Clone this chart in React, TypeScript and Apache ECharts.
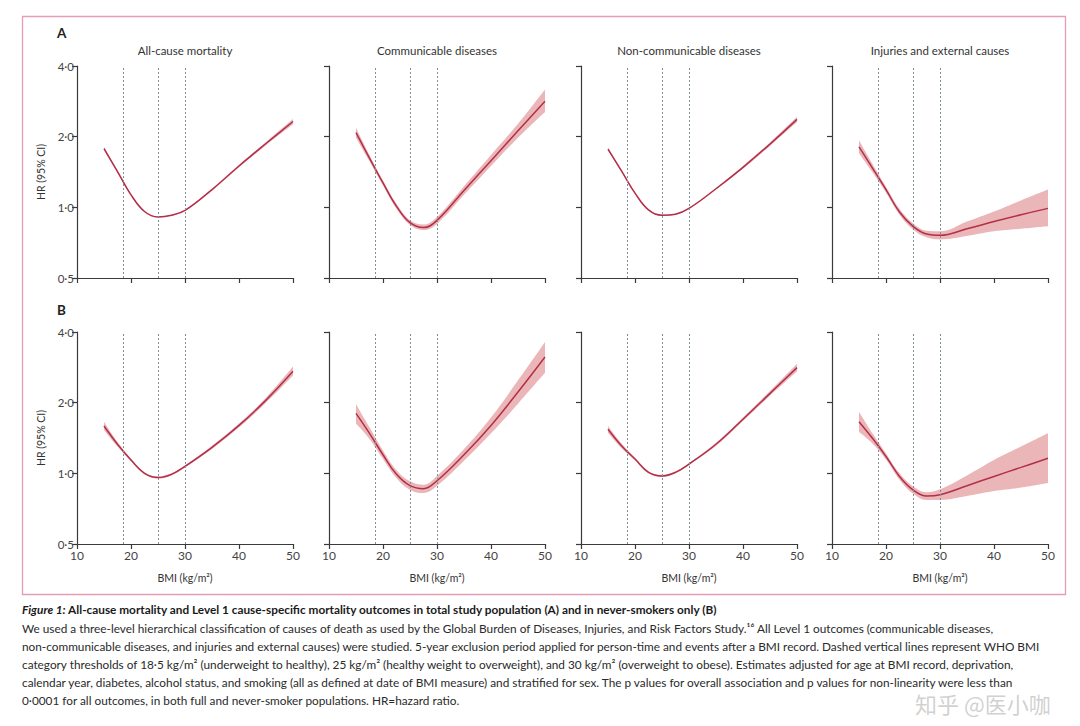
import React, { useEffect, useRef } from "react";
import * as echarts from "echarts";

// ---------- data ----------
const bmi = [15, 17.5, 20, 22.5, 25, 27.5, 30, 35, 40, 45, 50];
const panelTitles = [
  "All-cause mortality",
  "Communicable diseases",
  "Non-communicable diseases",
  "Injuries and external causes",
];
const rowLabels = ["A", "B"];
const yTicks = [0.5, 1, 2, 4];
const xTicks = [10, 20, 30, 40, 50];
const whoThresholds = [18.5, 25, 30];

// Row A: total study population
const hrA1 = [1.78, 1.42, 1.13, 0.96, 0.91, 0.925, 0.97, 1.19, 1.5, 1.87, 2.32];
const loA1 = [1.75, 1.405, 1.12, 0.955, 0.905, 0.92, 0.965, 1.18, 1.48, 1.84, 2.26];
const hiA1 = [1.81, 1.435, 1.14, 0.965, 0.915, 0.93, 0.975, 1.2, 1.52, 1.9, 2.38];

const hrA2 = [2.08, 1.62, 1.27, 1.01, 0.86, 0.82, 0.88, 1.18, 1.58, 2.12, 2.83];
const loA2 = [1.98, 1.57, 1.24, 0.985, 0.84, 0.8, 0.85, 1.13, 1.5, 1.98, 2.55];
const hiA2 = [2.19, 1.67, 1.3, 1.035, 0.88, 0.845, 0.91, 1.23, 1.67, 2.27, 3.18];

const hrA3 = [1.77, 1.43, 1.15, 0.975, 0.925, 0.935, 0.99, 1.2, 1.48, 1.86, 2.37];
const loA3 = [1.74, 1.415, 1.14, 0.97, 0.92, 0.93, 0.985, 1.19, 1.46, 1.83, 2.31];
const hiA3 = [1.8, 1.445, 1.16, 0.98, 0.93, 0.94, 0.995, 1.21, 1.5, 1.89, 2.43];

const hrA4 = [1.81, 1.47, 1.19, 0.955, 0.83, 0.77, 0.76, 0.81, 0.87, 0.93, 0.99];
const loA4 = [1.7, 1.41, 1.155, 0.93, 0.805, 0.745, 0.73, 0.755, 0.79, 0.81, 0.83];
const hiA4 = [1.93, 1.53, 1.225, 0.985, 0.855, 0.795, 0.79, 0.87, 0.96, 1.07, 1.19];

// Row B: never-smokers only
const hrB1 = [1.59, 1.33, 1.14, 1.0, 0.96, 0.99, 1.07, 1.29, 1.6, 2.05, 2.72];
const loB1 = [1.53, 1.3, 1.125, 0.99, 0.95, 0.98, 1.06, 1.27, 1.57, 2.0, 2.61];
const hiB1 = [1.66, 1.36, 1.155, 1.01, 0.97, 1.0, 1.08, 1.31, 1.63, 2.1, 2.85];

const hrB2 = [1.8, 1.48, 1.2, 0.99, 0.886, 0.86, 0.93, 1.2, 1.6, 2.22, 3.13];
const loB2 = [1.63, 1.4, 1.15, 0.955, 0.85, 0.825, 0.885, 1.13, 1.48, 1.98, 2.68];
const hiB2 = [1.97, 1.57, 1.25, 1.03, 0.925, 0.895, 0.975, 1.27, 1.73, 2.49, 3.63];

const hrB3 = [1.54, 1.31, 1.15, 1.01, 0.975, 1.01, 1.095, 1.33, 1.7, 2.19, 2.82];
const loB3 = [1.49, 1.28, 1.135, 1.0, 0.965, 1.0, 1.085, 1.31, 1.67, 2.14, 2.72];
const hiB3 = [1.59, 1.34, 1.165, 1.02, 0.985, 1.02, 1.105, 1.35, 1.73, 2.24, 2.93];

const hrB4 = [1.66, 1.41, 1.18, 0.97, 0.85, 0.8, 0.81, 0.886, 0.97, 1.06, 1.16];
const loB4 = [1.5, 1.34, 1.145, 0.94, 0.82, 0.77, 0.77, 0.8, 0.84, 0.87, 0.91];
const hiB4 = [1.83, 1.48, 1.215, 1.0, 0.88, 0.83, 0.855, 0.98, 1.14, 1.3, 1.48];

const captionLines = [
  "We used a three-level hierarchical classification of causes of death as used by the Global Burden of Diseases, Injuries, and Risk Factors Study.¹⁶ All Level 1 outcomes (communicable diseases,",
  "non-communicable diseases, and injuries and external causes) were studied. 5-year exclusion period applied for person-time and events after a BMI record. Dashed vertical lines represent WHO BMI",
  "category thresholds of 18·5 kg/m² (underweight to healthy), 25 kg/m² (healthy weight to overweight), and 30 kg/m² (overweight to obese). Estimates adjusted for age at BMI record, deprivation,",
  "calendar year, diabetes, alcohol status, and smoking (all as defined at date of BMI measure) and stratified for sex. The p values for overall association and p values for non-linearity were less than",
  "0·0001 for all outcomes, in both full and never-smoker populations. HR=hazard ratio.",
];
const captionTitleItalic = "Figure 1:";
const captionTitleBold =
  " All-cause mortality and Level 1 cause-specific mortality outcomes in total study population (A) and in never-smokers only (B)";
const watermarkText = "知乎 @医小咖";

const panels = [
  { hr: hrA1, lo: loA1, hi: hiA1 },
  { hr: hrA2, lo: loA2, hi: hiA2 },
  { hr: hrA3, lo: loA3, hi: hiA3 },
  { hr: hrA4, lo: loA4, hi: hiA4 },
  { hr: hrB1, lo: loB1, hi: hiB1 },
  { hr: hrB2, lo: loB2, hi: hiB2 },
  { hr: hrB3, lo: loB3, hi: hiB3 },
  { hr: hrB4, lo: loB4, hi: hiB4 },
];

// ---------- layout / style ----------
const FONT = "Lato, 'Open Sans', sans-serif";
const colLefts = [77, 329, 581, 832];
const rowTops = [66, 332];
const GW = 216;
const GH = 212;
const LINE_COLOR = "#b32f49";
const BAND_COLOR = "#ebb6b8";
const AXIS_COLOR = "#3a3a3a";
const DASH_COLOR = "#7f8f98";
const SMOOTH = 0.4;

const fmtY = (v: number) => v.toFixed(1).replace(".", "·");

function buildOption() {
  const grid: any[] = [];
  const xAxis: any[] = [];
  const yAxis: any[] = [];
  const series: any[] = [];
  const graphic: any[] = [];

  panels.forEach((p, i) => {
    const row = Math.floor(i / 4);
    const col = i % 4;
    const left = colLefts[col];
    const top = rowTops[row];
    grid.push({ left, top, width: GW, height: GH, containLabel: false });
    xAxis.push({
      type: "value",
      gridIndex: i,
      z: 10,
      min: xTicks[0],
      max: xTicks[xTicks.length - 1],
      interval: 10,
      axisLine: { show: true, lineStyle: { color: AXIS_COLOR, width: 1.2 } },
      axisTick: { show: true, length: 5, lineStyle: { color: AXIS_COLOR, width: 1.2 } },
      axisLabel: {
        show: row === 1,
        fontFamily: FONT,
        fontSize: 12,
        color: "#444",
        margin: 5,
      },
      splitLine: { show: false },
      name: row === 1 ? "BMI (kg/m²)" : "",
      nameLocation: "middle",
      nameGap: 28,
      nameTextStyle: { fontFamily: FONT, fontSize: 10.5, color: "#333" },
    });
    yAxis.push({
      type: "log",
      logBase: 2,
      gridIndex: i,
      z: 10,
      min: yTicks[0],
      max: yTicks[yTicks.length - 1],
      axisLine: { show: true, lineStyle: { color: AXIS_COLOR, width: 1.2 } },
      axisTick: { show: true, length: 5, lineStyle: { color: AXIS_COLOR, width: 1.2 } },
      axisLabel: {
        show: col === 0,
        formatter: fmtY,
        fontFamily: FONT,
        fontSize: 11.5,
        color: "#444",
        margin: 3,
      },
      splitLine: { show: false },
      name: col === 0 ? "HR (95% CI)" : "",
      nameLocation: "middle",
      nameGap: 31,
      nameRotate: 90,
      nameTextStyle: { fontFamily: FONT, fontSize: 10.5, color: "#333" },
    });

    // CI band: upper bound filled down to axis start, then lower bound filled white on top
    series.push({
      type: "line",
      xAxisIndex: i,
      yAxisIndex: i,
      data: bmi.map((x, k) => [x, p.hi[k]]),
      symbol: "none",
      smooth: SMOOTH,
      lineStyle: { opacity: 0, width: 0 },
      areaStyle: { color: BAND_COLOR, opacity: 1, origin: "start" },
      silent: true,
      z: 1,
    });
    series.push({
      type: "line",
      xAxisIndex: i,
      yAxisIndex: i,
      data: bmi.map((x, k) => [x, p.lo[k]]),
      symbol: "none",
      smooth: SMOOTH,
      lineStyle: { opacity: 0, width: 0 },
      areaStyle: { color: "#ffffff", opacity: 1, origin: "start" },
      silent: true,
      z: 1,
    });
    series.push({
      type: "line",
      xAxisIndex: i,
      yAxisIndex: i,
      data: bmi.map((x, k) => [x, p.hr[k]]),
      symbol: "none",
      smooth: SMOOTH,
      lineStyle: { color: LINE_COLOR, width: 1.5 },
      silent: true,
      z: 3,
      markLine: {
        silent: true,
        symbol: ["none", "none"],
        label: { show: false },
        lineStyle: { type: [2, 2], color: DASH_COLOR, width: 1 },
        data: whoThresholds.map((t) => ({ xAxis: t })),
      },
    });

    if (row === 0) {
      graphic.push({
        type: "text",
        x: left + GW / 2,
        y: 50,
        style: {
          text: panelTitles[col],
          fontFamily: FONT,
          fontSize: 11.5,
          fill: "#333",
          textAlign: "center",
          textVerticalAlign: "middle",
        },
      });
    }
  });

  rowLabels.forEach((lab, r) => {
    graphic.push({
      type: "text",
      x: 57,
      y: r === 0 ? 33 : 310,
      style: {
        text: lab,
        fontFamily: FONT,
        fontSize: 13.5,
        fontWeight: "bold",
        fill: "#222",
        textVerticalAlign: "middle",
      },
    });
  });

  // frame
  graphic.push({
    type: "rect",
    shape: { x: 22.5, y: 16.5, width: 1043, height: 578 },
    style: { fill: "none", stroke: "#e49db2", lineWidth: 1.3 },
  });

  // caption
  graphic.push({
    type: "text",
    x: 22,
    y: 609,
    style: {
      text: "{i|" + captionTitleItalic + "}{b|" + captionTitleBold + "}",
      textVerticalAlign: "middle",
      rich: {
        i: { fontFamily: FONT, fontSize: 11.8, fontWeight: "bold", fontStyle: "italic", fill: "#1a1a1a" },
        b: { fontFamily: FONT, fontSize: 11.8, fontWeight: "bold", fill: "#1a1a1a" },
      },
    },
  });
  captionLines.forEach((line, k) => {
    graphic.push({
      type: "text",
      x: 22,
      y: 628 + k * 18.2,
      style: {
        text: line,
        fontFamily: FONT,
        fontSize: 11.8,
        fill: "#2a2a2a",
        textVerticalAlign: "middle",
      },
    });
  });
  // watermark (kept clear of the caption lines)
  graphic.push({
    type: "text",
    x: 915,
    y: 703,
    style: {
      text: watermarkText,
      fontFamily: "'Noto Sans CJK SC', sans-serif",
      fontSize: 22,
      fill: "rgba(170,170,170,0.55)",
      textVerticalAlign: "middle",
    },
  });

  return {
    animation: false,
    backgroundColor: "#ffffff",
    grid,
    xAxis,
    yAxis,
    series,
    graphic,
  };
}

export default function App() {
  const ref = useRef<HTMLDivElement>(null);
  useEffect(() => {
    if (!ref.current) return;
    const chart = echarts.init(ref.current, null, { renderer: "svg" });
    chart.setOption(buildOption() as any);
    return () => chart.dispose();
  }, []);
  return (
    <div
      ref={ref}
      style={{ position: "fixed", left: 0, top: 0, width: 1080, height: 726, background: "#fff" }}
    />
  );
}
